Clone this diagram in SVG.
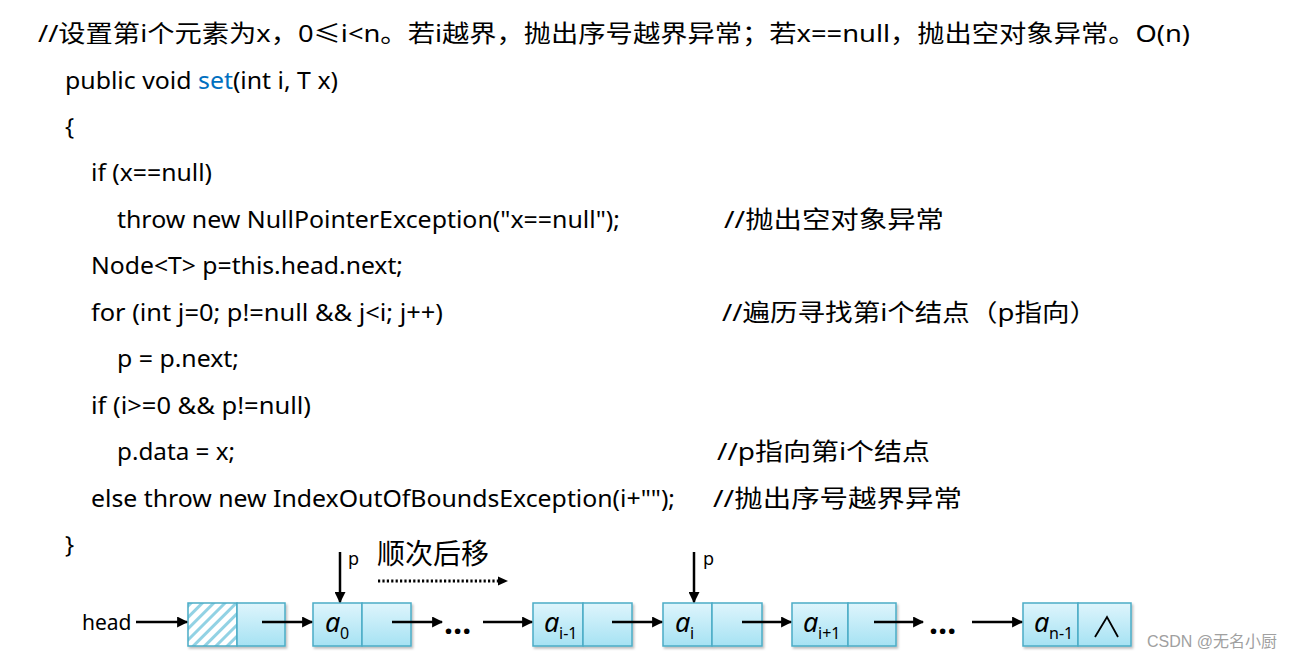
<svg xmlns="http://www.w3.org/2000/svg" width="1299" height="660" viewBox="0 0 1299 660">
<style>
.c{font-family:"Noto Sans","Noto Sans CJK SC",sans-serif;font-size:24px;fill:#000}
.lbl{font-family:"Noto Sans","Noto Sans CJK SC",sans-serif;fill:#000}
.a{font-family:"Noto Sans",sans-serif;font-style:italic;font-size:27px}
.sub{font-family:"Noto Sans",sans-serif;font-size:16px}
.box{fill:url(#g);stroke:#4bacc6;stroke-width:1.5}
.ln{stroke:#000;stroke-width:2.5;fill:none}
.dot{fill:#000}
</style>
<defs>
<linearGradient id="g" x1="0" y1="0" x2="0" y2="1"><stop offset="0" stop-color="#def5fc"/><stop offset="1" stop-color="#a6e2f3"/></linearGradient>
<pattern id="h" width="8" height="8" patternUnits="userSpaceOnUse" patternTransform="rotate(45)"><rect width="8" height="8" fill="#ffffff"/><rect width="3" height="8" fill="#92d2e4"/></pattern>
<marker id="ar" viewBox="0 0 10 10" refX="9" refY="5" markerWidth="4.4" markerHeight="4.4" orient="auto" markerUnits="strokeWidth"><path d="M0,0 L10,5 L0,10 z" fill="#000"/></marker>
<filter id="sh" x="-10%" y="-10%" width="130%" height="140%"><feDropShadow dx="1.5" dy="2" stdDeviation="1" flood-color="#000" flood-opacity="0.25"/></filter>
</defs>
<rect width="1299" height="660" fill="#fff"/>
<g id="code">
<text class="c" x="38" y="42" textLength="1152" lengthAdjust="spacingAndGlyphs">//设置第i个元素为x，0≤i&lt;n。若i越界，抛出序号越界异常；若x==null，抛出空对象异常。O(n)</text>
<text class="c" x="65" y="89" textLength="273" lengthAdjust="spacingAndGlyphs">public void <tspan fill="#0070c0">set</tspan>(int i, T x)</text>
<text class="c" x="65" y="135">{</text>
<text class="c" x="91" y="181" textLength="121" lengthAdjust="spacingAndGlyphs">if (x==null)</text>
<text class="c" x="117" y="228" textLength="503" lengthAdjust="spacingAndGlyphs">throw new NullPointerException("x==null");</text>
<text class="c" x="724" y="228" textLength="220" lengthAdjust="spacingAndGlyphs">//抛出空对象异常</text>
<text class="c" x="91" y="274" textLength="312" lengthAdjust="spacingAndGlyphs">Node&lt;T&gt; p=this.head.next;</text>
<text class="c" x="91" y="321" textLength="352" lengthAdjust="spacingAndGlyphs">for (int j=0; p!=null &amp;&amp; j&lt;i; j++)</text>
<text class="c" x="722" y="321" textLength="375" lengthAdjust="spacingAndGlyphs">//遍历寻找第i个结点（p指向）</text>
<text class="c" x="117" y="367" textLength="122" lengthAdjust="spacingAndGlyphs">p = p.next;</text>
<text class="c" x="91" y="414" textLength="220" lengthAdjust="spacingAndGlyphs">if (i&gt;=0 &amp;&amp; p!=null)</text>
<text class="c" x="117" y="460" textLength="118" lengthAdjust="spacingAndGlyphs">p.data = x;</text>
<text class="c" x="717" y="460" textLength="213" lengthAdjust="spacingAndGlyphs">//p指向第i个结点</text>
<text class="c" x="91" y="507" textLength="584" lengthAdjust="spacingAndGlyphs">else throw new IndexOutOfBoundsException(i+"");</text>
<text class="c" x="713" y="507" textLength="249" lengthAdjust="spacingAndGlyphs">//抛出序号越界异常</text>
<text class="c" x="65" y="553">}</text>
</g>
<g id="head-label"><text class="lbl" x="82" y="630" font-size="21">head</text></g>
<g id="node-head" filter="url(#sh)">
<rect x="188" y="603" width="49" height="43" fill="url(#h)" stroke="#4bacc6" stroke-width="1.5"/>
<rect class="box" x="237" y="603" width="48" height="43"/>
</g>
<g id="node-a0" filter="url(#sh)">
<rect class="box" x="313" y="603" width="49" height="43"/>
<rect class="box" x="362" y="603" width="49" height="43"/>
</g>
<g id="node-ai-1" filter="url(#sh)">
<rect class="box" x="533" y="603" width="50" height="43"/>
<rect class="box" x="583" y="603" width="49" height="43"/>
</g>
<g id="node-ai" filter="url(#sh)">
<rect class="box" x="663" y="603" width="49" height="43"/>
<rect class="box" x="712" y="603" width="50" height="43"/>
</g>
<g id="node-ai+1" filter="url(#sh)">
<rect class="box" x="792" y="603" width="56" height="43"/>
<rect class="box" x="848" y="603" width="48" height="43"/>
</g>
<g id="node-an-1" filter="url(#sh)">
<rect class="box" x="1023" y="603" width="55" height="43"/>
<rect class="box" x="1078" y="603" width="53" height="43"/>
</g>
<g id="labels">
<text class="a" x="325" y="632">a</text><text class="sub" x="340" y="639">0</text>
<text class="a" x="544" y="632">a</text><text class="sub" x="559" y="639">i-1</text>
<text class="a" x="675" y="632">a</text><text class="sub" x="690" y="639">i</text>
<text class="a" x="803" y="632">a</text><text class="sub" x="818" y="639">i+1</text>
<text class="a" x="1034" y="632">a</text><text class="sub" x="1049" y="639">n-1</text>
<polyline points="1095,637 1107,617 1118,637" fill="none" stroke="#000" stroke-width="1.8"/>
<text class="lbl" x="348" y="565" font-size="18">p</text>
<text class="lbl" x="703" y="565" font-size="18">p</text>
<text class="lbl" x="377" y="564" font-size="28">顺次后移</text>
<text class="lbl" x="444" y="634" font-size="32" font-weight="bold">…</text>
<text class="lbl" x="929" y="634" font-size="32" font-weight="bold">…</text>
<text x="1147" y="647" font-family="Liberation Sans,'Noto Sans CJK SC',sans-serif" font-size="16" fill="#a0a0a0">CSDN @无名小厨</text>
</g>
<g id="connectors">
<line class="ln" x1="136" y1="622" x2="187" y2="622" marker-end="url(#ar)"/>
<line class="ln" x1="262" y1="622" x2="312" y2="622" marker-end="url(#ar)"/>
<line class="ln" x1="392" y1="622" x2="442" y2="622" marker-end="url(#ar)"/>
<line class="ln" x1="483" y1="622" x2="532" y2="622" marker-end="url(#ar)"/>
<line class="ln" x1="612" y1="622" x2="662" y2="622" marker-end="url(#ar)"/>
<line class="ln" x1="742" y1="622" x2="791" y2="622" marker-end="url(#ar)"/>
<line class="ln" x1="874" y1="622" x2="923" y2="622" marker-end="url(#ar)"/>
<line class="ln" x1="972" y1="622" x2="1022" y2="622" marker-end="url(#ar)"/>
<line class="ln" x1="340" y1="552" x2="340" y2="602" marker-end="url(#ar)"/>
<line class="ln" x1="694" y1="552" x2="694" y2="602" marker-end="url(#ar)"/>
<line x1="378" y1="581" x2="499" y2="581" stroke="#000" stroke-width="3" stroke-dasharray="2.2 2.2"/>
<path d="M498,576.5 L508,581 L498,585.5 z" fill="#000"/>
</g>
</svg>
